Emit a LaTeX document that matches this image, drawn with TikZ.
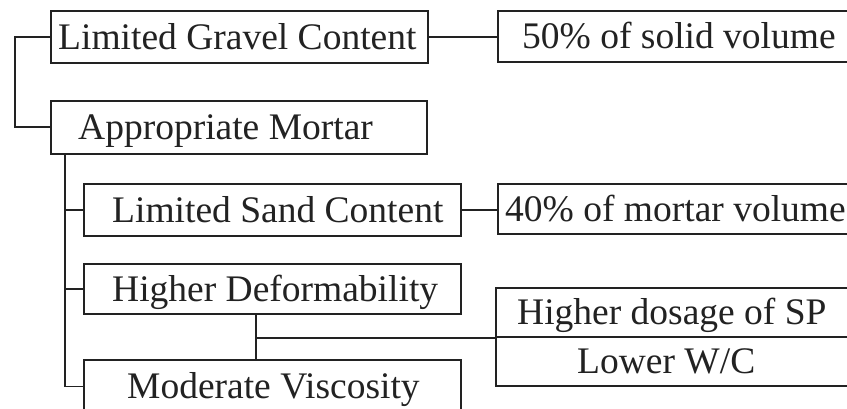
\documentclass[tikz,border=0pt]{standalone}
\usepackage{fontspec}
\setmainfont{Liberation Serif}
\usetikzlibrary{calc}
\definecolor{ink}{HTML}{222222}
\begin{document}
\begin{tikzpicture}[x=1pt,y=-1pt,
  box/.style={draw=ink, line width=1.9pt, inner sep=0pt, anchor=north west},
  txt/.style={inner sep=0pt, anchor=west, text=ink, font=\fontsize{37.5}{40}\selectfont, text height=24.5pt, text depth=0pt},
  conn/.style={draw=ink, line width=1.9pt}]
\useasboundingbox (0,0) rectangle (847,409);
\fill[white] (0,0) rectangle (847,409);
\clip (0,0) rectangle (847,409);
% boxes
\node[box, minimum width=377pt, minimum height=52pt] (gravel) at (50,10) {};
\node[box, minimum width=363pt, minimum height=51pt] (solid) at (497,10) {};
\node[box, minimum width=376pt, minimum height=53pt] (mortar) at (50,100) {};
\node[box, minimum width=377pt, minimum height=52pt] (sand) at (83,183) {};
\node[box, minimum width=363pt, minimum height=50pt] (pct) at (497,183) {};
\node[box, minimum width=377pt, minimum height=50pt] (deform) at (83,263) {};
\node[box, minimum width=377pt, minimum height=53pt] (visc) at (83,359) {};
\node[box, minimum width=365pt, minimum height=49pt] (sp) at (495,287) {};
\node[box, minimum width=365pt, minimum height=49pt] (wc) at (495,336) {};
% texts
\node[txt] (gravelt) at ([xshift=8pt]gravel.west) {Limited Gravel Content};
\node[txt] (solidt) at ([xshift=25pt]solid.west) {50\% of solid volume};
\node[txt] (mortart) at ([xshift=28pt]mortar.west) {Appropriate Mortar};
\node[txt] (sandt) at ([xshift=29pt]sand.west) {Limited Sand Content};
\node[txt] (pctt) at ([xshift=8pt]pct.west) {40\% of mortar volume};
\node[txt] (deformt) at ([xshift=29pt]deform.west) {Higher Deformability};
\node[txt] (visct) at ([xshift=44pt]visc.west) {Moderate Viscosity};
\node[txt] (spt) at ([xshift=22pt]sp.west) {Higher dosage of SP};
\node[txt] (wct) at ([xshift=82pt]wc.west) {Lower W/C};
% connectors
\coordinate (lx) at (15,0);
\coordinate (mx) at (65,0);
\coordinate (jx) at (256,0);
\draw[conn] (gravel.west) -- (gravel.west -| lx) |- (mortar.west);
\draw[conn] (gravel.east) -- (gravel.east -| solid.west);
\draw[conn] (mortar.south -| mx) |- (visc.west);
\draw[conn] (sand.west -| mx) -- (sand.west);
\draw[conn] (deform.west -| mx) -- (deform.west);
\draw[conn] (sand.east) -- (sand.east -| pct.west);
\draw[conn] (deform.south -| jx) -- (visc.north -| jx);
\coordinate (jn) at (jx |- sp.south);
\draw[conn] (jn) -- (sp.south west);
\end{tikzpicture}
\end{document}
